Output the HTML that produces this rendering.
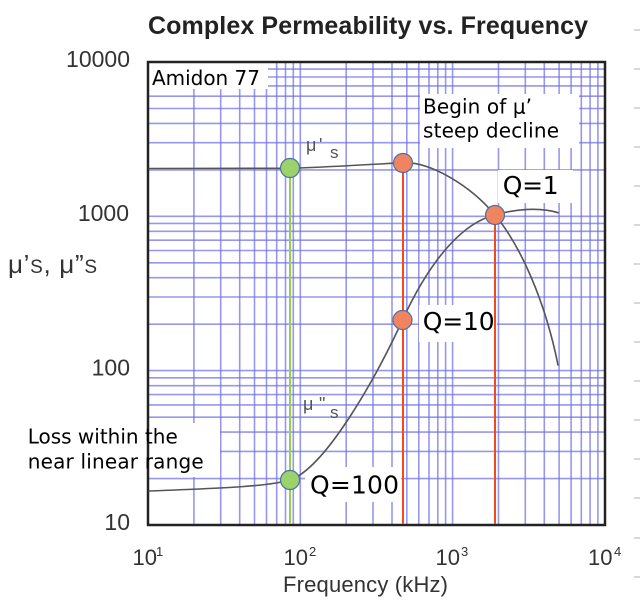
<!DOCTYPE html>
<html>
<head>
<meta charset="utf-8">
<style>
html,body{margin:0;padding:0;background:#fff;}
svg{display:block;}
</style>
</head>
<body>
<svg width="640" height="611" viewBox="0 0 640 611" xmlns="http://www.w3.org/2000/svg">
<rect width="640" height="611" fill="#fff"/>
<!-- title -->
<text x="148" y="34" font-family="Liberation Sans, Arial, sans-serif" font-weight="bold" font-size="25" fill="#222" textLength="440">Complex Permeability vs. Frequency</text>

<!-- grid -->
<g stroke="#6f6fe4" stroke-width="1.6" stroke-opacity="0.72" fill="none">
<path d="M193.9 62V525M220.7 62V525M239.7 62V525M254.5 62V525M266.5 62V525M276.7 62V525M285.5 62V525M293.3 62V525M300.3 62V525M346.2 62V525M373 62V525M392 62V525M406.8 62V525M418.8 62V525M429 62V525M437.8 62V525M445.6 62V525M452.6 62V525M498.5 62V525M525.3 62V525M544.3 62V525M559.1 62V525M571.1 62V525M581.3 62V525M590.1 62V525M597.9 62V525"/>
<path d="M148 69.1H605M148 77H605M148 85.9H605M148 96.2H605M148 108.5H605M148 123.4H605M148 142.7H605M148 169.9H605M148 216.3H605M148 223.4H605M148 231.3H605M148 240.2H605M148 250.5H605M148 262.8H605M148 277.7H605M148 297H605M148 324.2H605M148 370.6H605M148 377.8H605M148 385.7H605M148 394.6H605M148 404.9H605M148 417.2H605M148 432.1H605M148 451.4H605M148 478.6H605"/>
</g>

<!-- white annotation boxes -->
<g fill="#fff">
<rect x="148" y="62" width="120" height="27"/>
<rect x="420" y="94" width="159" height="54"/>
<rect x="498" y="170" width="75" height="33"/>
<rect x="419" y="305" width="78" height="37"/>
<rect x="305" y="467" width="96" height="35"/>
<rect x="22" y="423" width="198" height="54"/>
</g>

<!-- frame -->
<rect x="148" y="62" width="457" height="463" fill="none" stroke="#222" stroke-width="2.5"/>

<!-- vertical marker lines -->
<line x1="290" y1="168" x2="290" y2="524" stroke="#92d050" stroke-width="2"/>
<line x1="403" y1="163" x2="403" y2="524" stroke="#f04a20" stroke-width="2"/>
<line x1="495" y1="215" x2="495" y2="524" stroke="#f04a20" stroke-width="2"/>

<!-- curves -->
<g fill="none" stroke="#555" stroke-width="1.6" stroke-linejoin="round" stroke-linecap="round">
<path d="M149,168.5 C220,168.6 270,168.5 290,168.3 C330,167 370,164.5 403,162.7 C430,161.5 470,185 495,215 C520,245 545,300 558,365"/>
<path d="M149,491 C230,488 270,486 290,480 C325,468 375,380 403,319 C432,256 465,222 495,215 C515,209 540,207 558,212.7"/>
</g>

<!-- circles -->
<g stroke="#4f6fa8" stroke-width="1.2">
<circle cx="290" cy="168" r="9.5" fill="#9bd26a"/>
<circle cx="290" cy="480" r="9.5" fill="#9bd26a"/>
<circle cx="403" cy="163" r="9.5" fill="#f0845e"/>
<circle cx="402.5" cy="320" r="9.5" fill="#f0845e"/>
<circle cx="495" cy="215" r="9.5" fill="#f0845e"/>
</g>

<!-- curve labels -->
<g font-family="Liberation Sans, Arial, sans-serif" fill="#555" font-size="18">
<text x="306" y="151">μ</text>
<text x="319" y="151">'</text>
<text x="330" y="158" font-size="17">s</text>
<text x="303" y="410">μ</text>
<text x="319" y="410">"</text>
<text x="330" y="418" font-size="17">s</text>
</g>

<!-- annotations -->
<g font-family="DejaVu Sans, Verdana, sans-serif" fill="#000" font-size="20">
<text x="152" y="85" textLength="108">Amidon 77</text>
<text x="423" y="113.5" textLength="109">Begin of μ’</text>
<text x="423" y="137.5" textLength="136">steep decline</text>
<text x="27.7" y="443.3">Loss within the</text>
<text x="27.7" y="468.3" textLength="176">near linear range</text>
<text x="502.7" y="194" font-size="25" textLength="56">Q=1</text>
<text x="422.7" y="330" font-size="25" textLength="72">Q=10</text>
<text x="310" y="493.3" font-size="25" textLength="89">Q=100</text>
</g>

<!-- y tick labels -->
<g font-family="Liberation Sans, Arial, sans-serif" fill="#333" font-size="23" text-anchor="end">
<text x="130" y="67">10000</text>
<text x="129" y="221">1000</text>
<text x="130" y="375.5">100</text>
<text x="130" y="530">10</text>
</g>

<!-- y axis label -->
<g font-family="Liberation Sans, Arial, sans-serif" fill="#333">
<text x="8" y="273" font-size="26" textLength="89">μ’<tspan font-size="19">S</tspan>, μ”<tspan font-size="19">S</tspan></text>
</g>

<!-- x tick labels -->
<g font-family="Liberation Sans, Arial, sans-serif" fill="#333" font-size="22">
<text x="132.5" y="565">10</text><text x="156" y="556" font-size="13">1</text>
<text x="283.5" y="565">10</text><text x="309" y="556" font-size="13">2</text>
<text x="435.5" y="565">10</text><text x="461" y="556" font-size="13">3</text>
<text x="588" y="565">10</text><text x="614" y="556" font-size="13">4</text>
</g>

<!-- x axis label -->
<text x="283" y="592" font-family="Liberation Sans, Arial, sans-serif" fill="#333" font-size="22" textLength="165">Frequency (kHz)</text>

<!-- faint right-edge ticks -->
<path d="M634 30H640M634 69H640M634 108H640M634 147H640M634 186H640M634 225H640M634 264H640M634 303H640M634 342H640M634 381H640M634 420H640M634 459H640M634 498H640M634 538H640M634 577H640" stroke="#b0b0b0" stroke-width="1"/>
</svg>
</body>
</html>
